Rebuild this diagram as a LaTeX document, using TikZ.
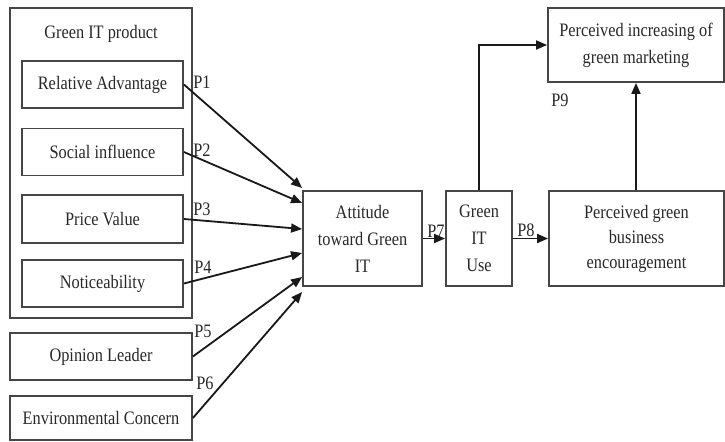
\documentclass[tikz,border=0pt]{standalone}
\usepackage{fontspec}
\setmainfont[FakeStretch=0.86]{Liberation Serif}
\usetikzlibrary{positioning, arrows.meta}
\definecolor{boxgray}{RGB}{70,70,70}
\definecolor{txtgray}{RGB}{40,40,40}
\tikzset{
    box/.style={rectangle, draw=boxgray, line width=0.9pt, align=center, inner sep=1pt, text=txtgray, font=\fontsize{9.5}{13.5}\selectfont},
    arr/.style={-{Triangle[length=5.5pt, width=4.5pt]}, line width=0.9pt, color=black!90},
    plbl/.style={font=\fontsize{9.5}{11}\selectfont, text=txtgray, inner sep=0pt}
}
\begin{document}
\begin{tikzpicture}[x=0.5pt, y=-0.5pt]
    \useasboundingbox (0,0) rectangle (725,441);

    % Green IT product group
    \node[box, minimum width=91pt, minimum height=155pt] (grp) at (101,163) {};
    \node[plbl] (grptitle) at (101,34) {Green IT product};
    \node[box, minimum width=80.5pt, minimum height=23.5pt] (ra) at (102.5,84.5) {Relative Advantage};
    \node[box, minimum width=80.5pt, minimum height=23.5pt] (si) at (102.5,152) {Social influence};
    \node[box, minimum width=80.5pt, minimum height=24pt] (pv) at (102.5,219) {Price Value};
    \node[box, minimum width=80.5pt, minimum height=23.5pt] (nt) at (102.5,283.5) {Noticeability};

    % Other antecedents
    \node[box, minimum width=91pt, minimum height=23.5pt] (ol) at (101,356.5) {Opinion Leader};
    \node[box, minimum width=91pt, minimum height=22pt] (ec) at (101,418) {Environmental Concern};

    % Main chain
    \node[box, minimum width=59.5pt, minimum height=47.5pt] (att) at (362.5,238.5) {Attitude\\toward Green\\IT};
    \node[box, minimum width=33pt, minimum height=47.5pt] (use) at (479,238.5) {Green\\IT\\Use};
    \node[box, minimum width=87.5pt, minimum height=47.5pt, font=\fontsize{9.5}{12.5}\selectfont] (enc) at (636.5,238.5) {Perceived green\\business\\encouragement};
    \node[box, minimum width=88pt, minimum height=37pt] (mkt) at (636,45) {Perceived increasing of\\green marketing};

    % Paths into attitude
    \foreach \src/\dy in {ra/25.25, si/17.75, pv/4.75, nt/-7.25, ol/-19.25, ec/-26.75}
        \draw[arr] (\src.east) -- ([yshift=\dy pt]att.west);
    \draw[arr] (att.east) -- (use.west);
    \draw[arr] (use.east) -- (enc.west);
    \draw[arr] (use.north) |- (mkt.west);
    \draw[arr] (enc.north -| mkt.south) -- (mkt.south);

    % Path labels
    \node[plbl] (p1) at (202,82) {P1};
    \node[plbl] (p2) at (202,150) {P2};
    \node[plbl] (p3) at (202,209) {P3};
    \node[plbl] (p4) at (203,267) {P4};
    \node[plbl] (p5) at (203,331) {P5};
    \node[plbl] (p6) at (205,383) {P6};
    \node[plbl] (p7) at (436,231) {P7};
    \node[plbl] (p8) at (526,230) {P8};
    \node[plbl] (p9) at (560,100) {P9};
\end{tikzpicture}
\end{document}
